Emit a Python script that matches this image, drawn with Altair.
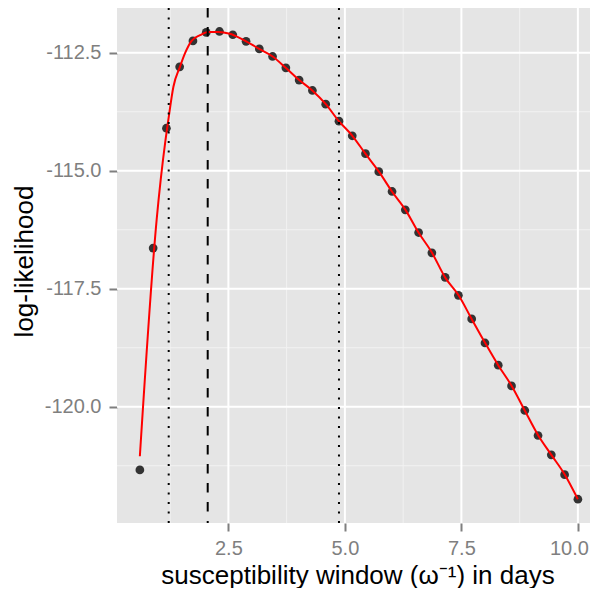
import altair as alt
import pandas as pd

# observed log-likelihood points
pt_x = [0.600, 0.885, 1.170, 1.454, 1.739, 2.024, 2.309, 2.594, 2.879, 3.164,
        3.448, 3.733, 4.018, 4.303, 4.588, 4.873, 5.158, 5.442, 5.727, 6.012,
        6.297, 6.582, 6.867, 7.152, 7.436, 7.721, 8.006, 8.291, 8.576, 8.861,
        9.145, 9.430, 9.715, 10.000]
pt_y = [-121.34, -116.64, -114.10, -112.80, -112.25, -112.07, -112.05, -112.12,
        -112.26, -112.42, -112.58, -112.82, -113.08, -113.30, -113.59, -113.95,
        -114.26, -114.64, -115.02, -115.44, -115.83, -116.31, -116.74, -117.26,
        -117.64, -118.14, -118.65, -119.12, -119.56, -120.08, -120.61, -121.02,
        -121.44, -121.96]

# fitted curve (red)
fit_x = [0.60, 0.96, 1.15, 1.21, 1.32, 1.46, 1.57, 1.71, 1.89, 2.07,
         2.28, 2.53, 2.75, 3.16, 3.45, 3.73, 4.02, 4.30, 4.59, 4.87, 5.16, 5.44,
         5.73, 6.01, 6.30, 6.58, 6.87, 7.15, 7.44, 7.72, 8.01, 8.29, 8.58, 8.86,
         9.15, 9.43, 9.72, 10.00]
fit_y = [-121.05, -116.04, -114.35, -113.93, -113.22, -112.80,
         -112.51, -112.25, -112.13, -112.06, -112.06, -112.10, -112.19, -112.42,
         -112.58, -112.82, -113.08, -113.30, -113.59, -113.95, -114.26, -114.64,
         -115.02, -115.44, -115.83, -116.31, -116.74, -117.26, -117.64, -118.14,
         -118.65, -119.12, -119.56, -120.08, -120.61, -121.02, -121.44, -121.96]

vline_dotted = [1.219, 4.873]
vline_dashed = [2.056]

x_major = [2.5, 5.0, 7.5, 10.0]
x_minor = [1.25, 3.75, 6.25, 8.75]
y_major = [-112.5, -115.0, -117.5, -120.0]
y_minor = [-113.75, -116.25, -118.75, -121.25]

X_DOMAIN = [0.1094, 10.26]
Y_DOMAIN = [-122.464, -111.553]

FONT = "Liberation Sans"
GREY = "#7F7F7F"

xs = alt.Scale(domain=X_DOMAIN, nice=False, zero=False)
ys = alt.Scale(domain=Y_DOMAIN, nice=False, zero=False)

xaxis = alt.Axis(
    values=x_major, format=".1f", grid=False, domain=False,
    labelFont=FONT, labelFontSize=20, labelColor=GREY, labelPadding=7,
    labelOffset={"condition": {"test": "datum.value == 10", "value": -9}, "value": 0},
    tickColor=GREY, tickSize=8, tickWidth=2,
    title="susceptibility window (\u03c9\u207b\u00b9) in days",
    titleFont=FONT, titleFontSize=26, titleFontWeight="normal", titleColor="black",
    titleX=240.5, titleY=60, titleAlign="center", titleBaseline="alphabetic",
    labelFlush=False, labelOverlap=False,
)
yaxis = alt.Axis(
    values=y_major, format=".1f", grid=False, domain=False,
    labelExpr="replace(datum.label, '\u2212', '-')",
    labelFont=FONT, labelFontSize=20, labelColor=GREY, labelPadding=8,
    tickColor=GREY, tickSize=8, tickWidth=2,
    title="log-likelihood",
    titleFont=FONT, titleFontSize=26, titleFontWeight="normal", titleColor="black",
    titleX=-93, titleY=253, titleAlign="center", titleBaseline="middle", titleAngle=-90,
    labelFlush=False, labelOverlap=False,
)

X = lambda: alt.X("x:Q", scale=xs, axis=xaxis)
Y = lambda: alt.Y("y:Q", scale=ys, axis=yaxis)

pts = pd.DataFrame({"x": pt_x, "y": pt_y})
fit = pd.DataFrame({"x": fit_x, "y": fit_y})

minor_v = alt.Chart(pd.DataFrame({"x": x_minor})).mark_rule(
    color="#F2F2F2", strokeWidth=1).encode(x=X())
minor_h = alt.Chart(pd.DataFrame({"y": y_minor})).mark_rule(
    color="#F2F2F2", strokeWidth=1).encode(y=Y())
major_v = alt.Chart(pd.DataFrame({"x": x_major})).mark_rule(
    color="white", strokeWidth=2).encode(x=X())
major_h = alt.Chart(pd.DataFrame({"y": y_major})).mark_rule(
    color="white", strokeWidth=2).encode(y=Y())

points = alt.Chart(pts).mark_circle(size=76, color="#333333", opacity=1).encode(x=X(), y=Y())
line = alt.Chart(fit).mark_line(color="#FF0000", strokeWidth=2, interpolate="monotone").encode(x=X(), y=Y())

dotted = alt.Chart(pd.DataFrame({"x": vline_dotted})).mark_rule(
    color="black", strokeWidth=2, strokeDash=[2, 7.5]).encode(x=X())
dashed = alt.Chart(pd.DataFrame({"x": vline_dashed})).mark_rule(
    color="black", strokeWidth=2, strokeDash=[9.5, 9.5]).encode(x=X())

chart = alt.layer(
    minor_v, minor_h, major_v, major_h, points, line, dotted, dashed
).properties(
    width=473, height=515,
    autosize=alt.AutoSizeParams(type="none"),
    padding={"left": 109, "top": 0, "right": 0, "bottom": 65},
    background="white",
).configure_view(
    fill="#E5E5E5", stroke=None, strokeWidth=0
)

chart.save("out.html", embed_options={"renderer": "svg", "actions": False})
